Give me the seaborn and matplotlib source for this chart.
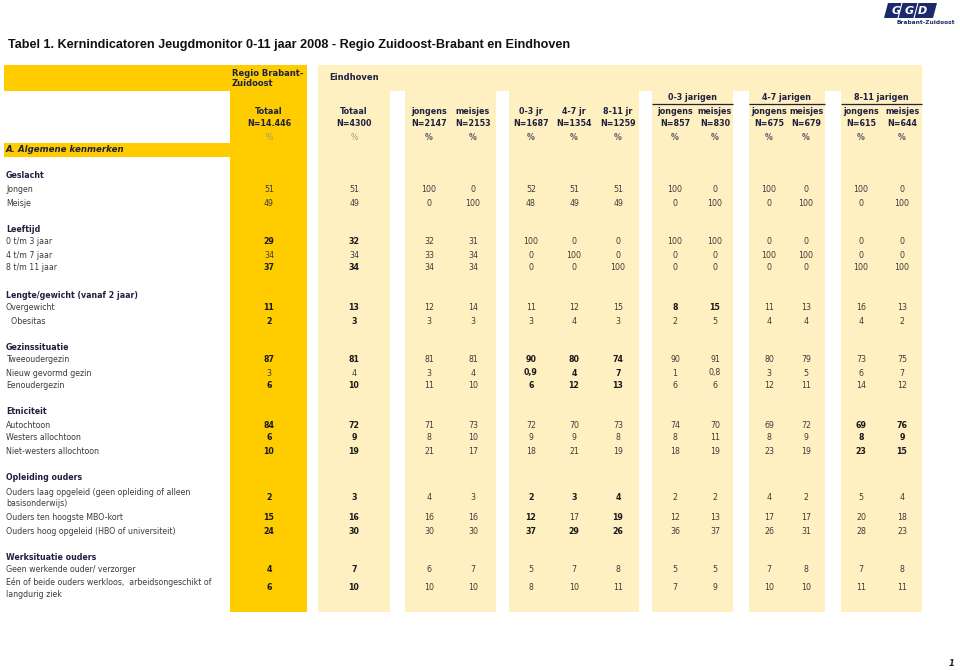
import matplotlib
matplotlib.use("Agg")
import matplotlib.pyplot as plt
import seaborn as sns
from matplotlib.patches import Rectangle, Polygon

# ---- data ----
title = "Tabel 1. Kernindicatoren Jeugdmonitor 0-11 jaar 2008 - Regio Zuidoost-Brabant en Eindhoven"
col_names = ["Totaal", "Totaal", "jongens", "meisjes", "0-3 jr", "4-7 jr", "8-11 jr",
             "jongens", "meisjes", "jongens", "meisjes", "jongens", "meisjes"]
col_n = ["N=14.446", "N=4300", "N=2147", "N=2153", "N=1687", "N=1354", "N=1259",
         "N=857", "N=830", "N=675", "N=679", "N=615", "N=644"]
age_groups = ["0-3 jarigen", "4-7 jarigen", "8-11 jarigen"]

section_names = ["Geslacht", "Leeftijd", "Lengte/gewicht (vanaf 2 jaar)", "Gezinssituatie",
                 "Etniciteit", "Opleiding ouders", "Werksituatie ouders"]

geslacht_labels = ["Jongen", "Meisje"]
geslacht_values = [["51", "51", "100", "0", "52", "51", "51", "100", "0", "100", "0", "100", "0"],
                   ["49", "49", "0", "100", "48", "49", "49", "0", "100", "0", "100", "0", "100"]]
geslacht_bold = ["0000000000000", "0000000000000"]

leeftijd_labels = ["0 t/m 3 jaar", "4 t/m 7 jaar", "8 t/m 11 jaar"]
leeftijd_values = [["29", "32", "32", "31", "100", "0", "0", "100", "100", "0", "0", "0", "0"],
                   ["34", "34", "33", "34", "0", "100", "0", "0", "0", "100", "100", "0", "0"],
                   ["37", "34", "34", "34", "0", "0", "100", "0", "0", "0", "0", "100", "100"]]
leeftijd_bold = ["1100000000000", "0000000000000", "1100000000000"]

gewicht_labels = ["Overgewicht", "  Obesitas"]
gewicht_values = [["11", "13", "12", "14", "11", "12", "15", "8", "15", "11", "13", "16", "13"],
                  ["2", "3", "3", "3", "3", "4", "3", "2", "5", "4", "4", "4", "2"]]
gewicht_bold = ["1100000110000", "1100000000000"]

gezin_labels = ["Tweeoudergezin", "Nieuw gevormd gezin", "Eenoudergezin"]
gezin_values = [["87", "81", "81", "81", "90", "80", "74", "90", "91", "80", "79", "73", "75"],
                ["3", "4", "3", "4", "0,9", "4", "7", "1", "0,8", "3", "5", "6", "7"],
                ["6", "10", "11", "10", "6", "12", "13", "6", "6", "12", "11", "14", "12"]]
gezin_bold = ["1100111000000", "0000111000000", "1100111000000"]

etniciteit_labels = ["Autochtoon", "Westers allochtoon", "Niet-westers allochtoon"]
etniciteit_values = [["84", "72", "71", "73", "72", "70", "73", "74", "70", "69", "72", "69", "76"],
                     ["6", "9", "8", "10", "9", "9", "8", "8", "11", "8", "9", "8", "9"],
                     ["10", "19", "21", "17", "18", "21", "19", "18", "19", "23", "19", "23", "15"]]
etniciteit_bold = ["1100000000011", "1100000000011", "1100000000011"]

opleiding_labels = ["Ouders laag opgeleid (geen opleiding of alleen\nbasisonderwijs)",
                    "Ouders ten hoogste MBO-kort",
                    "Ouders hoog opgeleid (HBO of universiteit)"]
opleiding_values = [["2", "3", "4", "3", "2", "3", "4", "2", "2", "4", "2", "5", "4"],
                    ["15", "16", "16", "16", "12", "17", "19", "12", "13", "17", "17", "20", "18"],
                    ["24", "30", "30", "30", "37", "29", "26", "36", "37", "26", "31", "28", "23"]]
opleiding_bold = ["1100111000000", "1100101000000", "1100111000000"]

werk_labels = ["Geen werkende ouder/ verzorger",
               "Eén of beide ouders werkloos,  arbeidsongeschikt of\nlangdurig ziek"]
werk_values = [["4", "7", "6", "7", "5", "7", "8", "5", "5", "7", "8", "7", "8"],
               ["6", "10", "10", "10", "8", "10", "11", "7", "9", "10", "10", "11", "11"]]
werk_bold = ["1100000000000", "1100000000000"]

sections = [
    (geslacht_labels, geslacht_values, geslacht_bold),
    (leeftijd_labels, leeftijd_values, leeftijd_bold),
    (gewicht_labels, gewicht_values, gewicht_bold),
    (gezin_labels, gezin_values, gezin_bold),
    (etniciteit_labels, etniciteit_values, etniciteit_bold),
    (opleiding_labels, opleiding_values, opleiding_bold),
    (werk_labels, werk_values, werk_bold),
]

# ---- layout (pixels) ----
col_x = [269, 354, 429, 473, 531, 574, 618, 675, 715, 769, 806, 861, 902]
light_blocks = [(318, 390), (405, 496), (509, 639), (652, 733), (749, 825), (841, 922)]
group_spans = [(652, 733), (749, 825), (841, 922)]
section_y = [176, 229, 295, 347, 412, 478, 557]
row_y = [[190, 203], [242, 255, 268], [308, 321], [360, 373, 386],
         [425, 438, 452], [498, 517, 531], [570, 588]]

DARK = "#FFCC00"
LIGHT = "#FFF0C2"
NAVY = "#1E2140"
GREY = "#3C3C3C"
FS = 5.7

sns.set_theme(style="white")
plt.rcParams['font.family'] = ['DejaVu Sans']

fig = plt.figure(figsize=(9.6, 6.7), dpi=100)
ax = fig.add_axes([0, 0, 1, 1])
ax.set_xlim(0, 960)
ax.set_ylim(670, 0)
ax.axis('off')

# backgrounds
ax.add_patch(Rectangle((318, 65), 922 - 318, 26, color=LIGHT, lw=0))
for x0, x1 in light_blocks:
    ax.add_patch(Rectangle((x0, 65), x1 - x0, 612 - 65, color=LIGHT, lw=0))
ax.add_patch(Rectangle((4, 65), 226, 26, color=DARK, lw=0))
ax.add_patch(Rectangle((4, 143), 226, 14, color=DARK, lw=0))
ax.add_patch(Rectangle((230, 65), 77, 612 - 65, color=DARK, lw=0))

# title
ax.text(8, 45, title, fontsize=9.1, fontweight='bold', color="#111111",
        family=['Liberation Sans Narrow', 'Liberation Sans'], va='center', ha='left')

# header
ax.text(232, 73, "Regio Brabant-", fontsize=FS + 0.3, fontweight='bold', color=NAVY, va='center')
ax.text(232, 84, "Zuidoost", fontsize=FS + 0.3, fontweight='bold', color=NAVY, va='center')
ax.text(329, 78, "Eindhoven", fontsize=FS + 0.3, fontweight='bold', color=NAVY, va='center')
for name, (x0, x1) in zip(age_groups, group_spans):
    ax.text((x0 + x1) / 2, 97, name, fontsize=FS + 0.1, fontweight='bold', color=NAVY,
            ha='center', va='center')
    ax.plot([x0, x1], [104, 104], color=NAVY, lw=0.9, solid_capstyle='butt')
for i, (x, name, n) in enumerate(zip(col_x, col_names, col_n)):
    ax.text(x, 111, name, fontsize=FS + 0.1, fontweight='bold', color=NAVY, ha='center', va='center')
    ax.text(x, 124, n, fontsize=FS + 0.1, fontweight='bold', color=NAVY, ha='center', va='center')
    if i < 2:
        ax.text(x, 137, "%", fontsize=FS, color="#A89A70", ha='center', va='center')
    else:
        ax.text(x, 137, "%", fontsize=FS, fontweight='bold', color="#5A5A6A", ha='center', va='center')
ax.text(6, 150, "A. Algemene kenmerken", fontsize=FS + 0.5, fontweight='bold', style='italic',
        color=NAVY, va='center')

# body
for name, sy, (labels, values, bold), ys in zip(section_names, section_y, sections, row_y):
    ax.text(6, sy, name, fontsize=FS, fontweight='bold', color=NAVY, va='center')
    for label, vals, bmask, y in zip(labels, values, bold, ys):
        ax.text(6, y, label, fontsize=FS, color=GREY, va='center', linespacing=1.4)
        for x, v, b in zip(col_x, vals, bmask):
            ax.text(x, y, v, fontsize=FS, ha='center', va='center',
                    fontweight='bold' if b == "1" else 'normal',
                    color="#1A1A1A" if b == "1" else GREY)

# logo
ax.add_patch(Polygon([[888, 3], [937, 3], [933, 18], [884, 18]], closed=True, color="#1B2A6B", lw=0))
for lx in [900, 916]:
    ax.plot([lx + 2, lx - 2], [3, 18], color="white", lw=0.8)
ax.text(910, 10.5, "G G D", fontsize=8, fontweight='bold', style='italic', color="white",
        ha='center', va='center')
ax.text(926, 23, "Brabant-Zuidoost", fontsize=4.2, fontweight='bold', color="#1B2A6B",
        ha='center', va='center')

# page number
ax.text(952, 663, "1", fontsize=6, style='italic', fontweight='bold', color="#222222",
        ha='center', va='center')

fig.savefig("out.png", dpi=100)
